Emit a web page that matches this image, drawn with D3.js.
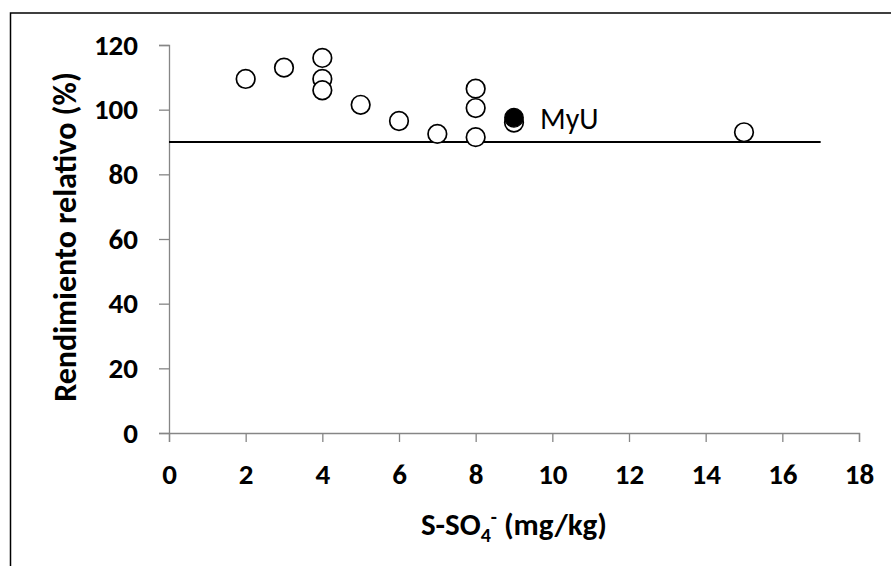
<!DOCTYPE html>
<html>
<head>
<meta charset="utf-8">
<script src="https://cdn.jsdelivr.net/npm/d3@7"></script>
<style>
  html, body { margin: 0; padding: 0; background: #fff; }
  svg { display: block; font-family: Calibri, Carlito, Lato, "Open Sans", sans-serif; }
</style>
</head>
<body>
<div id="chart"></div>
<script>
"use strict";

// S-SO4 (mg/kg) vs rendimiento relativo (%)
var sulfato = [2, 3, 4, 4, 4, 5, 6, 7, 8, 8, 8, 9, 15];
var rendimiento = [109.5, 113, 116, 109.5, 106, 101.5, 96.5, 92.5, 106.5, 100.5, 91.5, 96, 93];
var myuSulfato = [9];
var myuRendimiento = [97.5];
var umbralX = [0, 17];
var umbralY = [90, 90];
var xTicks = [0, 2, 4, 6, 8, 10, 12, 14, 16, 18];
var yTicks = [0, 20, 40, 60, 80, 100, 120];

var width = 891, height = 566;
var fuente = "Calibri, Carlito, Lato, sans-serif";
var svg = d3.select("#chart").append("svg")
    .attr("width", width)
    .attr("height", height);

// chart area border (right/bottom edges fall outside the picture)
svg.append("rect")
    .attr("x", 10.5).attr("y", 13)
    .attr("width", 900).attr("height", 600)
    .attr("fill", "#fff")
    .attr("stroke", "#000")
    .attr("stroke-width", 1.5);

var x = d3.scaleLinear().domain([0, 18]).range([169, 859]);
var y = d3.scaleLinear().domain([0, 120]).range([433, 45]);

var axisColor = "#868686";

var xAxis = svg.append("g")
    .attr("transform", "translate(0," + y(0) + ")")
    .call(d3.axisBottom(x).tickValues(xTicks).tickSize(9).tickPadding(21).tickFormat(d3.format("d")));
var yAxis = svg.append("g")
    .attr("transform", "translate(" + x(0) + ",0)")
    .call(d3.axisLeft(y).tickValues(yTicks).tickSize(10).tickPadding(21).tickFormat(d3.format("d")));

[xAxis, yAxis].forEach(function (a) {
    a.attr("font-family", null).attr("font-size", null);
    a.select(".domain").attr("stroke", axisColor).attr("stroke-width", 1.3);
    a.selectAll(".tick line").attr("stroke", axisColor).attr("stroke-width", 1.3);
    a.selectAll(".tick text")
        .attr("fill", "#000")
        .style("font-size", "29px")
        .style("font-weight", "bold")
        .style("font-family", fuente);
});

// 90 % reference line
var linea = d3.line()
    .x(function (d) { return x(d[0]); })
    .y(function (d) { return y(d[1]); });
svg.append("path")
    .datum(d3.zip(umbralX, umbralY))
    .attr("d", linea)
    .attr("fill", "none")
    .attr("stroke", "#000")
    .attr("stroke-width", 1.8);

// open points
svg.append("g")
    .selectAll("circle")
    .data(d3.zip(sulfato, rendimiento))
    .enter().append("circle")
    .attr("cx", function (d) { return x(d[0]); })
    .attr("cy", function (d) { return y(d[1]); })
    .attr("r", 9.3)
    .attr("fill", "#fff")
    .attr("stroke", "#000")
    .attr("stroke-width", 1.7);

// MyU point
var myu = d3.zip(myuSulfato, myuRendimiento);
svg.append("g")
    .selectAll("circle")
    .data(myu)
    .enter().append("circle")
    .attr("cx", function (d) { return x(d[0]); })
    .attr("cy", function (d) { return y(d[1]); })
    .attr("r", 9.3)
    .attr("fill", "#000")
    .attr("stroke", "#000")
    .attr("stroke-width", 1.2);

svg.append("g")
    .selectAll("text")
    .data(myu)
    .enter().append("text")
    .attr("x", function (d) { return x(d[0]) + 26; })
    .attr("y", function (d) { return y(d[1]) + 11; })
    .style("font-size", "30px")
    .style("font-family", fuente)
    .text("MyU");

// axis titles, centred on the plot area
var xMid = (x.range()[0] + x.range()[1]) / 2;
var yMid = (y.range()[0] + y.range()[1]) / 2;

var xTitle = svg.append("text")
    .attr("x", xMid)
    .attr("y", 535)
    .attr("text-anchor", "middle")
    .style("font-size", "31px")
    .style("font-weight", "bold")
    .style("font-family", fuente);
xTitle.append("tspan").text("S-SO");
xTitle.append("tspan").attr("dy", 7).style("font-size", "20px").text("4");
xTitle.append("tspan").attr("dy", -18).style("font-size", "20px").text("-");
xTitle.append("tspan").attr("dy", 11).text(" (mg/kg)");

svg.append("text")
    .attr("transform", "translate(76," + (yMid - 2) + ") rotate(-90)")
    .attr("text-anchor", "middle")
    .style("font-size", "32px")
    .style("font-weight", "bold")
    .style("font-family", fuente)
    .text("Rendimiento relativo (%)");
</script>
</body>
</html>
